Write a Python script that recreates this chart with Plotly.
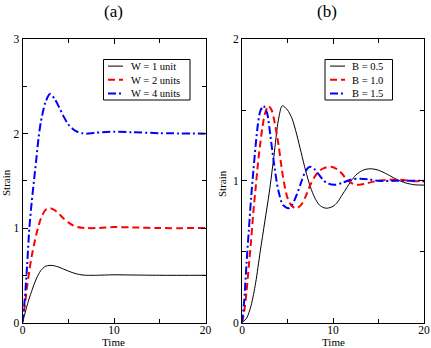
import plotly.graph_objects as go

# ---------- Panel (a): strain vs time for different W ----------
time_a = [0, 0.25, 0.5, 0.75, 1, 1.25, 1.5, 1.75, 2, 2.5, 3, 3.5, 4, 4.5, 5, 5.5, 6, 6.5, 7, 8, 10, 12, 15, 20]
w1 = [0, 0.09, 0.18, 0.26, 0.33, 0.40, 0.46, 0.51, 0.55, 0.595, 0.605, 0.60, 0.585, 0.565, 0.545, 0.527, 0.513, 0.504, 0.50, 0.50, 0.505, 0.503, 0.50, 0.50]
w2 = [0, 0.18, 0.38, 0.55, 0.70, 0.82, 0.93, 1.02, 1.10, 1.19, 1.21, 1.19, 1.15, 1.10, 1.06, 1.03, 1.012, 1.004, 1.00, 1.00, 1.01, 1.007, 1.00, 1.00]
w4 = [0, 0.25, 0.60, 1.00, 1.27, 1.50, 1.72, 1.95, 2.12, 2.33, 2.42, 2.37, 2.28, 2.18, 2.10, 2.05, 2.02, 2.005, 2.00, 2.01, 2.02, 2.015, 2.005, 2.00]
names_a = ["W = 1 unit", "W = 2 units", "W = 4 units"]

# ---------- Panel (b): strain vs time for different B ----------
time_b05 = [0, 0.5, 1, 1.5, 2, 2.5, 3, 3.5, 4, 4.43, 5, 5.5, 6, 6.5, 7, 7.5, 8, 8.5, 9, 9.37, 10, 10.5, 11, 11.5, 12, 12.5, 13, 13.5, 14.25, 15, 16, 17, 18, 19, 20]
b05 = [0, 0.03, 0.12, 0.28, 0.50, 0.71, 0.92, 1.17, 1.43, 1.53, 1.50, 1.44, 1.33, 1.20, 1.07, 0.96, 0.88, 0.83, 0.81, 0.807, 0.82, 0.85, 0.90, 0.95, 1.00, 1.04, 1.065, 1.08, 1.085, 1.075, 1.045, 1.01, 0.985, 0.972, 0.97]

time_b10 = [0, 0.25, 0.5, 0.75, 1, 1.25, 1.5, 1.75, 2, 2.25, 2.5, 2.9, 3.25, 3.5, 4, 4.5, 5, 5.5, 6, 6.5, 7, 7.5, 8, 8.5, 9, 9.8, 10.5, 11, 11.5, 12, 12.6, 13.5, 14.5, 15.5, 17, 18.5, 20]
b10 = [0, 0.08, 0.22, 0.40, 0.58, 0.78, 0.95, 1.12, 1.26, 1.38, 1.47, 1.53, 1.50, 1.44, 1.26, 1.03, 0.88, 0.82, 0.807, 0.83, 0.89, 0.97, 1.03, 1.07, 1.09, 1.10, 1.08, 1.05, 1.01, 0.985, 0.972, 0.98, 0.995, 1.005, 1.01, 1.00, 0.995]

time_b15 = [0, 0.25, 0.5, 0.75, 1, 1.25, 1.5, 1.75, 2, 2.35, 2.75, 3, 3.5, 4, 4.5, 5.1, 5.5, 6, 6.5, 7, 7.47, 8, 8.5, 9, 9.5, 10.2, 11, 12, 13, 14, 15, 17, 20]
b15 = [0, 0.16, 0.42, 0.65, 0.88, 1.07, 1.25, 1.40, 1.49, 1.53, 1.48, 1.38, 1.13, 0.93, 0.83, 0.807, 0.83, 0.90, 0.99, 1.07, 1.10, 1.08, 1.04, 1.00, 0.98, 0.972, 0.985, 1.01, 1.015, 1.01, 1.00, 1.00, 1.00]
names_b = ["B = 0.5", "B = 1.0", "B = 1.5"]

colors = ["black", "#ff0000", "#0000ff"]
dashes = ["solid", "7px,4px", "8px,3px,2px,3px"]
widths = [1, 2, 2]

FONT = "Liberation Serif"
W, H = 431, 348


def px(x):
    return x / W


def py(y):
    return 1 - y / H


fig = go.Figure()
for ys, nm, c, d, w in zip([w1, w2, w4], names_a, colors, dashes, widths):
    fig.add_trace(go.Scatter(x=time_a, y=ys, name=nm, mode="lines", showlegend=False,
                             line=dict(color=c, dash=d, width=w, shape="spline", smoothing=0.8),
                             xaxis="x", yaxis="y"))
for xs, ys, nm, c, d, w in zip([time_b05, time_b10, time_b15], [b05, b10, b15], names_b, colors, dashes, widths):
    fig.add_trace(go.Scatter(x=xs, y=ys, name=nm, mode="lines", showlegend=False,
                             line=dict(color=c, dash=d, width=w, shape="spline", smoothing=0.8),
                             xaxis="x2", yaxis="y2"))

xa = [px(22.5), px(205.5)]
xb = [px(242), px(424)]
yd = [py(322.5), py(39.2)]

axis_common = dict(showgrid=False, zeroline=False, showline=True, linecolor="black", linewidth=1,
                   mirror="ticks", ticks="inside", ticklen=5, tickcolor="black", tickwidth=1,
                   automargin=False,
                   tickfont=dict(family=FONT, size=11.5, color="black"))

fig.update_layout(
    width=W, height=H,
    margin=dict(l=0, r=0, t=0, b=0, autoexpand=False),
    paper_bgcolor="white", plot_bgcolor="white",
    font=dict(family=FONT, size=11, color="black"),
    showlegend=False,
    xaxis=dict(domain=xa, range=[0, 20], tickvals=[0, 10, 20], anchor="y", ticklabelstandoff=-3,
               minor=dict(tickvals=[5, 15], ticks="inside", ticklen=4, tickcolor="black"), **axis_common),
    yaxis=dict(domain=yd, range=[0, 3], tickvals=[0, 1, 2, 3], anchor="x",
               minor=dict(tickvals=[0.5, 1.5, 2.5], ticks="inside", ticklen=4, tickcolor="black"), **axis_common),
    xaxis2=dict(domain=xb, range=[0, 20], tickvals=[0, 10, 20], anchor="y2", ticklabelstandoff=-3,
                minor=dict(tickvals=[5, 15], ticks="inside", ticklen=4, tickcolor="black"), **axis_common),
    yaxis2=dict(domain=yd, range=[0, 2], tickvals=[0, 1, 2], anchor="x2",
                minor=dict(tickvals=[0.5, 1.5], ticks="inside", ticklen=4, tickcolor="black"), **axis_common),
)

# panel titles and axis titles
for txt, xp in [("(a)", 113), ("(b)", 327)]:
    fig.add_annotation(text=txt, x=px(xp), y=py(11), xref="paper", yref="paper",
                       xanchor="center", yanchor="middle",
                       showarrow=False, font=dict(family=FONT, size=17, color="black"))
for xdom in (xa, xb):
    fig.add_annotation(text="Time", x=(xdom[0] + xdom[1]) / 2, y=py(341.5), xref="paper", yref="paper",
                       xanchor="center", yanchor="middle", borderpad=0,
                       showarrow=False, font=dict(family=FONT, size=11, color="black"))
for xp in (6, 222):
    fig.add_annotation(text="Strain", x=px(xp), y=py(183), xref="paper", yref="paper", textangle=-90,
                       xanchor="center", yanchor="middle",
                       showarrow=False, font=dict(family=FONT, size=11, color="black"))

# framed legends (one per panel)
LFS = 10.5
step = LFS * 1.3
legends = [
    dict(box=(103.5, 59.5, 190, 100), s0=108, s1=123, tx=130, names=names_a),
    dict(box=(325, 59.5, 392.5, 100), s0=330, s1=345, tx=351, names=names_b),
]
for lg in legends:
    x0, y0, x1, y1 = lg["box"]
    yc = (y0 + y1) / 2
    fig.add_shape(type="rect", xref="paper", yref="paper", x0=px(x0), x1=px(x1), y0=py(y1), y1=py(y0),
                  line=dict(color="black", width=1), fillcolor="white", layer="above")
    for i, (c, d, w) in enumerate(zip(colors, dashes, widths)):
        ry = yc + (i - 1) * step
        fig.add_shape(type="line", xref="paper", yref="paper", x0=px(lg["s0"]), x1=px(lg["s1"]),
                      y0=py(ry), y1=py(ry), line=dict(color=c, width=w, dash=d), layer="above")
    fig.add_annotation(text="<br>".join(lg["names"]), x=px(lg["tx"]), y=py(yc), xref="paper", yref="paper",
                       xanchor="left", yanchor="middle", align="left", showarrow=False, borderpad=0,
                       font=dict(family=FONT, size=LFS, color="black"))

fig.write_html("out.html", config={"displayModeBar": False},
               post_script="document.body.style.margin='0';document.body.style.padding='0';")
